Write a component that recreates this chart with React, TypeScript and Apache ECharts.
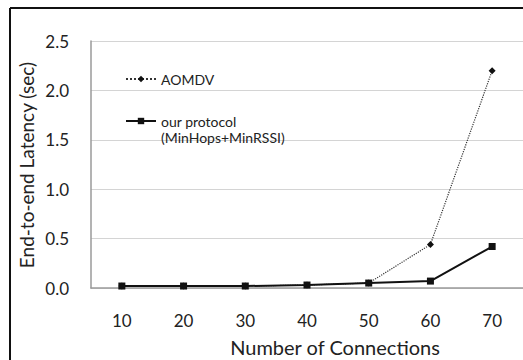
import React, { useEffect, useRef } from "react";
import * as echarts from "echarts";

const categories = ["10", "20", "30", "40", "50", "60", "70"];
const aomdv = [0.02, 0.02, 0.02, 0.03, 0.05, 0.44, 2.2];
const ours = [0.02, 0.02, 0.02, 0.03, 0.05, 0.07, 0.42];
const nameA = "AOMDV";
const nameB = "our protocol\n(MinHops+MinRSSI)";
const xTitle = "Number of Connections";
const yTitle = "End-to-end Latency (sec)";

const FONT = "Lato";

export default function App() {
  const ref = useRef<HTMLDivElement>(null);
  useEffect(() => {
    document.body.style.margin = "0";
    document.body.style.overflow = "hidden";
    if (!ref.current) return;
    const chart = echarts.init(ref.current, undefined, { renderer: "svg" });
    chart.setOption({
      animation: false,
      backgroundColor: "#ffffff",
      grid: { left: 91, top: 41, width: 435, height: 247, containLabel: false },
      xAxis: {
        type: "category",
        data: categories,
        boundaryGap: true,
        axisLine: { show: true, lineStyle: { color: "#9a9a9a", width: 1.5 } },
        axisTick: { show: false },
        axisLabel: { color: "#222", fontSize: 17, fontFamily: FONT, margin: 24 },
        splitLine: { show: false },
      },
      yAxis: {
        type: "value",
        min: 0,
        max: 2.5,
        interval: 0.5,
        axisLine: { show: true, lineStyle: { color: "#9a9a9a", width: 1.5 } },
        axisTick: { show: false },
        axisLabel: {
          color: "#222",
          fontSize: 17,
          fontFamily: FONT,
          margin: 22,
          formatter: (v: number) => v.toFixed(1),
        },
        splitLine: { show: true, lineStyle: { color: "#d4d4d4", width: 1 } },
      },
      legend: [
        {
          data: [nameA],
          left: 125,
          top: 72,
          padding: 0,
          itemWidth: 30,
          itemHeight: 8,
          textStyle: { color: "#222", fontSize: 14, fontFamily: FONT },
        },
        {
          data: [nameB],
          left: 125,
          top: 97,
          padding: 0,
          itemWidth: 30,
          itemHeight: 8,
          formatter: (n: string) => "\n" + n,
          textStyle: {
            color: "#222",
            fontSize: 14,
            fontFamily: FONT,
            lineHeight: 16,
          },
        },
      ],
      series: [
        {
          name: nameA,
          type: "line",
          data: aomdv,
          symbol: "diamond",
          symbolSize: 7,
          itemStyle: { color: "#111" },
          lineStyle: { color: "#333", width: 1.2, type: "dotted" },
        },
        {
          name: nameB,
          type: "line",
          data: ours,
          symbol: "rect",
          symbolSize: 7,
          itemStyle: { color: "#111" },
          lineStyle: { color: "#111", width: 2, type: "solid" },
        },
      ],
      graphic: [
        {
          type: "line",
          shape: { x1: 10, y1: 8, x2: 10, y2: 360 },
          style: { stroke: "#111", lineWidth: 2 },
        },
        {
          type: "line",
          shape: { x1: 10, y1: 8, x2: 523, y2: 8 },
          style: { stroke: "#111", lineWidth: 2 },
        },
        {
          type: "text",
          x: 335,
          y: 347,
          style: {
            text: xTitle,
            fill: "#222",
            font: `20px ${FONT}`,
            align: "center",
            verticalAlign: "middle",
          },
        },
        {
          type: "text",
          x: 26,
          y: 165,
          rotation: Math.PI / 2,
          style: {
            text: yTitle,
            fill: "#222",
            font: `19px ${FONT}`,
            align: "center",
            verticalAlign: "middle",
          },
        },
      ],
    });
    return () => chart.dispose();
  }, []);
  return (
    <div
      ref={ref}
      style={{ position: "fixed", left: 0, top: 0, width: 523, height: 360 }}
    />
  );
}
